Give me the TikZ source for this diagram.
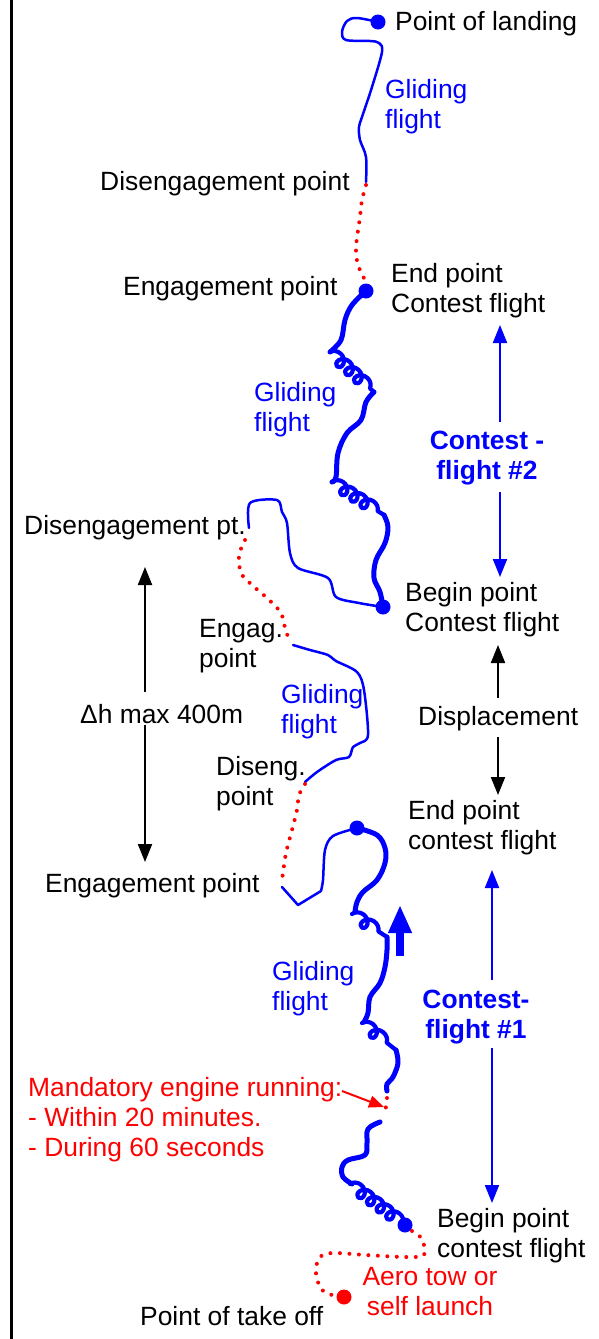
\documentclass[tikz,border=0pt]{standalone}
\usepackage{fontspec}
\setmainfont{Liberation Sans}
\usetikzlibrary{arrows.meta,decorations.pathmorphing}
\begin{document}
\begin{tikzpicture}[x=1pt,y=-1pt,
  lbl/.style={font=\fontsize{26.4}{30}\selectfont, inner sep=0pt, align=left, anchor=west},
  blbl/.style={lbl, text=blue},
  rlbl/.style={lbl, text=red},
  cbold/.style={font=\fontsize{26.4}{30}\selectfont\bfseries, inner sep=0pt, align=center, text=blue},
  thinpath/.style={draw=blue, line width=2.5pt, line join=round, line cap=round},
  thickpath/.style={draw=blue, line width=5pt, line join=round, line cap=round},
  reddots/.style={draw=red, line width=4pt, dash pattern=on 0pt off 9.5pt, line cap=round},
  coiled/.style={line width=4.2pt, decorate, decoration={coil, amplitude=6pt, aspect=1, segment length=#1}},
  pdot/.style={circle, fill=#1, minimum size=15pt, inner sep=0pt},
  karr/.style={-{Triangle[length=18pt,width=14pt]}, line width=2pt, draw=black},
  barr/.style={karr, draw=blue},
]
\useasboundingbox (0,0) rectangle (599,1339);
\draw[line width=2.5pt] (11.5,0) -- (11.5,1339);

% dots
\node[pdot=blue] (land) at (378,22) {};
\node[pdot=blue] (eng1) at (366,291) {};
\node[pdot=blue] (beg2) at (383,607) {};
\node[pdot=blue] (end1) at (357,828) {};
\node[pdot=blue] (beg1) at (405,1225) {};
\node[pdot=red] (take) at (344,1297) {};

% labels
\node[lbl] (tland) at (395,24) {Point of landing};
\node[blbl] (g1) at (385,107) {Gliding\\flight};
\node[lbl] (tdis1) at (100,184) {Disengagement point};
\node[lbl] (teng1) at (123,289) {Engagement point};
\node[lbl] (tend2) at (391,291) {End point\\Contest flight};
\node[blbl] (g2) at (254,410) {Gliding\\flight};
\node[cbold] (cf2) at (487,458) {Contest -\\flight \#2};
\node[lbl] (tdis2) at (24,528) {Disengagement pt.};
\node[lbl] (tbeg2) at (405,610) {Begin point\\Contest flight};
\node[lbl] (teng2) at (199,646) {Engag.\\point};
\node[blbl] (g3) at (281,712) {Gliding\\flight};
\node[lbl] (tdh) at (80,714) {Δh max 400m};
\node[lbl] (tdisp) at (418,719) {Displacement};
\node[lbl] (tdis3) at (216,784) {Diseng.\\point};
\node[lbl] (tend1) at (408,828) {End point\\contest flight};
\node[lbl] (teng3) at (45,886) {Engagement point};
\node[blbl] (g4) at (272,989) {Gliding\\flight};
\node[cbold] (cf1) at (476,1017) {Contest-\\flight \#1};
\node[rlbl] (mand) at (28,1120) {Mandatory engine running:\\- Within 20 minutes.\\- During 60 seconds};
\node[lbl] (tbeg1) at (437,1236) {Begin point\\contest flight};
\node[font=\fontsize{26.4}{30}\selectfont, inner sep=0pt, align=center, text=red] (aero) at (430,1292) {Aero tow or\\self launch};
\node[lbl] (ttake) at (140,1316) {Point of take off};

% arrows
\coordinate (c2a) at (500,422); \coordinate (c2b) at (500,325);
\coordinate (c2c) at (500,492); \coordinate (c2d) at (500,577);
\draw[barr] (c2a) -- (c2b);
\draw[barr] (c2c) -- (c2d);
\coordinate (dha) at (145,692); \coordinate (dhb) at (145,567);
\coordinate (dhc) at (145,725); \coordinate (dhd) at (145,862);
\draw[karr] (dha) -- (dhb);
\draw[karr] (dhc) -- (dhd);
\coordinate (dpa) at (498,698); \coordinate (dpb) at (498,645);
\coordinate (dpc) at (498,737); \coordinate (dpd) at (498,795);
\draw[karr] (dpa) -- (dpb);
\draw[karr] (dpc) -- (dpd);
\coordinate (c1a) at (492,980); \coordinate (c1b) at (492,870);
\coordinate (c1c) at (492,1048); \coordinate (c1d) at (492,1203);
\draw[barr] (c1a) -- (c1b);
\draw[barr] (c1c) -- (c1d);
\coordinate (ma) at (342,1091); \coordinate (mb) at (384,1107);
\draw[-{Triangle[length=15pt,width=12pt]}, line width=2pt, red] (ma) -- (mb);
\coordinate (ua) at (400,956); \coordinate (ub) at (400,905);
\draw[-{Triangle[length=28pt,width=22pt]}, line width=8pt, blue] (ua) -- (ub);

% top gliding (thin)
\draw[thinpath] plot[smooth, tension=0.55] coordinates {(366,182) (366,157) (360,140) (359,127) (362,117) (372,87) (382,52) (379,43) (370,41) (346,40) (342,32) (347,21) (357,18) (land.center)};
\draw[reddots] plot[smooth] coordinates {(366,185) (362,200) (360,217) (356,247) (358,265) (366,282)};

% contest flight 2 (thick)
\draw[thickpath] plot[smooth, tension=0.6] coordinates {(eng1.center) (352,305) (345,320) (341,340) (330,352)};
\draw[thickpath, coiled=12pt] (330,352) -- (374,392);
\draw[thickpath] plot[smooth, tension=0.6] coordinates {(374,392) (366,402) (361,420) (347,433) (338,453) (336,477) (332,482)};
\draw[thickpath, coiled=12pt] (332,482) -- (384,515);
\draw[thickpath] plot[smooth, tension=0.6] coordinates {(384,515) (388,527) (385,543) (376,560) (374,578) (380,592) (beg2.center)};

% thin C
\draw[thinpath] plot[smooth, tension=0.5] coordinates {(beg2.center) (359,603) (336,597) (328,578) (298,568) (290,553) (287,523) (282,512) (277,500) (250,503) (249,528)};
\draw[reddots] plot[smooth] coordinates {(245,540) (239,555) (241,573) (252,585) (267,598) (281,613) (286,632) (292,643)};
% thin D
\draw[thinpath] plot[smooth, tension=0.5] coordinates {(293,645) (310,650) (328,655) (336,661) (357,672) (364,690) (368,735) (360,743) (353,747) (349,757) (336,760) (317,772) (305,782)};
\draw[reddots] plot[smooth] coordinates {(305,784) (299,795) (297,810) (292,830) (286,853) (282,880)};
% thin E
\draw[thinpath] (282,887) -- (298,905) -- (321,891) plot[smooth, tension=0.5] coordinates {(321,891) (323,880) (325,850) (333,836) (end1.center)};

% contest flight 1 (thick)
\draw[thickpath] plot[smooth, tension=0.6] coordinates {(end1.center) (377,835) (385,848) (385,863) (377,880) (363,892) (357,902) (355,912)};
\draw[thickpath, coiled=13pt] (352,914) -- (387,937);
\draw[thickpath] plot[smooth, tension=0.6] coordinates {(387,937) (387,950) (385,967) (380,983) (370,997) (368,1013) (364,1022)};
\draw[thickpath, coiled=13pt] (362,1023) -- (396,1050);
\draw[thickpath] plot[smooth, tension=0.6] coordinates {(396,1050) (398,1063) (393,1077) (387,1084) (387,1091)};
\draw[reddots] plot[smooth] coordinates {(387,1098) (386,1107) (382,1116)};
\draw[thickpath] plot[smooth, tension=0.6] coordinates {(380,1122) (368,1129) (367,1143) (365,1155) (348,1160) (342,1167) (343,1177) (352,1184)};
\draw[thickpath, coiled=12pt] (350,1184) -- (beg1.center);

% tow
\draw[reddots] plot[smooth, tension=0.5] coordinates {(412,1231) (422,1239) (424,1255) (405,1257) (366,1255) (332,1253) (319,1258) (316,1273) (321,1289) (332,1295)};
\end{tikzpicture}
\end{document}
